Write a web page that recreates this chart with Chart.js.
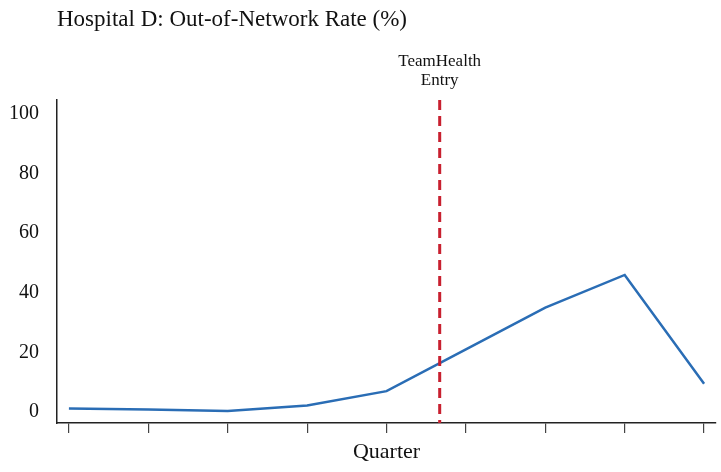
<!DOCTYPE html>
<html>
<head>
<script src="https://cdn.jsdelivr.net/npm/chart.js@4"></script>
<style>
  body { margin: 0; background: #fff; }
  #wrap { width: 721px; height: 472px; }
</style>
</head>
<body>
<div id="wrap"><canvas id="c"></canvas></div>
<script>
let quarters = [0, 1, 2, 3, 4, 5, 6, 7, 8];
let rates = [1.2, 0.8, 0.3, 2.2, 7, 21, 35, 46, 9.5];
let entryQuarter = 4.67;
let yTicks = [0, 20, 40, 60, 80, 100];

const serif = "'Liberation Serif', 'DejaVu Serif', serif";

// title, entry marker and axis title
const extras = {
  id: "extras",
  afterDatasetsDraw(chart) {
    let ctx = chart.ctx;
    let x = chart.scales.x.getPixelForValue(entryQuarter);
    let a = chart.chartArea;
    ctx.save();
    ctx.strokeStyle = "#c8202f";
    ctx.lineWidth = 3;
    ctx.setLineDash([10, 6]);
    ctx.beginPath();
    ctx.moveTo(x, a.top);
    ctx.lineTo(x, a.bottom);
    ctx.stroke();
    ctx.setLineDash([]);
    ctx.fillStyle = "#111";
    ctx.textAlign = "center";
    ctx.textBaseline = "middle";
    ctx.font = "17px " + serif;
    ctx.fillText("TeamHealth", x, 62);
    ctx.fillText("Entry", x, 81);
    ctx.font = "22px " + serif;
    ctx.fillText("Quarter", (a.left + a.right) / 2, 452);
    ctx.textAlign = "left";
    ctx.font = "23px " + serif;
    ctx.fillText("Hospital D: Out-of-Network Rate (%)", 57, 20);
    ctx.restore();
  }
};

new Chart(document.getElementById("c"), {
  type: "line",
  data: {
    datasets: [{
      data: quarters.map((q, i) => ({ x: q, y: rates[i] })),
      borderColor: "#2a6db5",
      borderWidth: 2.5,
      pointRadius: 0,
      tension: 0
    }]
  },
  options: {
    responsive: true,
    maintainAspectRatio: false,
    animation: false,
    layout: { padding: { top: 100, right: 5 } },
    plugins: { legend: { display: false }, tooltip: { enabled: false } },
    scales: {
      x: {
        type: "linear",
        min: -0.15,
        max: 8.15,
        afterBuildTicks(s) { s.ticks = quarters.map(v => ({ value: v })); },
        ticks: { display: false },
        grid: { drawOnChartArea: false, tickLength: 10, color: "#444", lineWidth: 1.2 },
        border: { color: "#222", width: 1.5 },
        afterFit(s) { s.height = 49; }
      },
      y: {
        min: -3.7,
        max: 104.7,
        afterBuildTicks(s) { s.ticks = yTicks.map(v => ({ value: v })); },
        ticks: { color: "#111", font: { family: serif, size: 20 }, padding: 10 },
        grid: { display: false },
        border: { color: "#222", width: 1.5 },
        afterFit(s) { s.width = 57; }
      }
    }
  },
  plugins: [extras]
});
</script>
</body>
</html>
